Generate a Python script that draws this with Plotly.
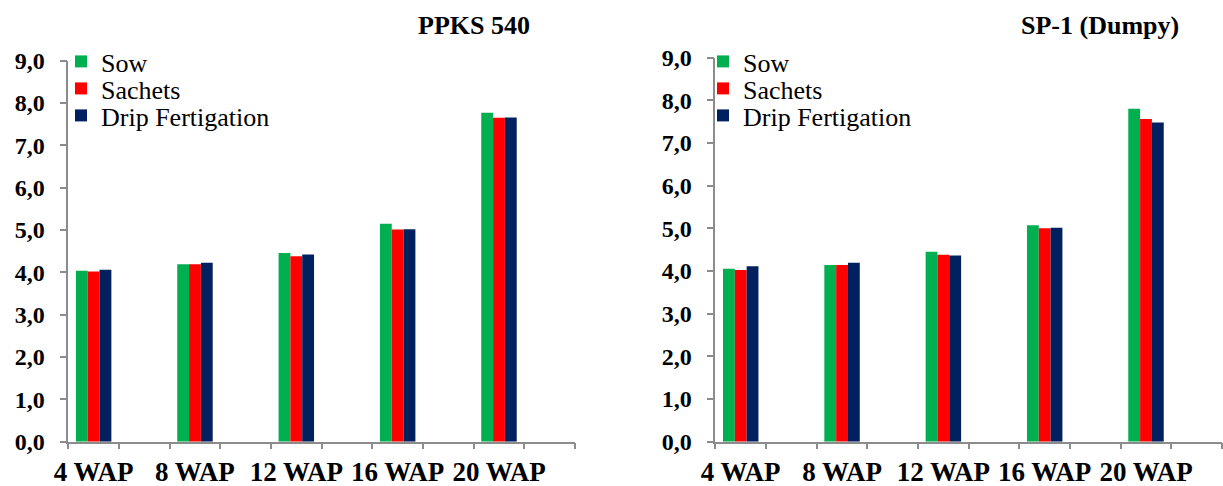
import plotly.graph_objects as go

categories = ["4 WAP", "8 WAP", "12 WAP", "16 WAP", "20 WAP"]
series_names = ["Sow", "Sachets", "Drip Fertigation"]
series_colors = ["#00B050", "#FF0000", "#002060"]

ppks_sow = [4.04, 4.19, 4.46, 5.15, 7.77]
ppks_sachets = [4.02, 4.19, 4.38, 5.01, 7.65]
ppks_drip = [4.06, 4.23, 4.42, 5.02, 7.66]

sp1_sow = [4.05, 4.14, 4.45, 5.07, 7.80]
sp1_sachets = [4.02, 4.14, 4.38, 5.00, 7.56]
sp1_drip = [4.11, 4.19, 4.36, 5.01, 7.48]

y_tick_values = [0, 1, 2, 3, 4, 5, 6, 7, 8, 9]
y_tick_labels = ["0,0", "1,0", "2,0", "3,0", "4,0", "5,0", "6,0", "7,0", "8,0", "9,0"]

panel_titles = ["PPKS 540", "SP-1 (Dumpy)"]

# each category occupies one slot followed by an empty slot (as in the original axis)
x_pos = [2 * i + 0.5 for i in range(len(categories))]
slot_edges = list(range(2 * len(categories) + 1))

FONT = "Liberation Serif, Times New Roman, serif"
GREY = "#8C8C8C"
W, H = 1223, 486

fig = go.Figure()

# legend placement (px) per panel and per series row
legend_left_px = [61, 703]
legend_row_top_px = [38, 65, 92]

panels = [
    ([ppks_sow, ppks_sachets, ppks_drip], "x", "y"),
    ([sp1_sow, sp1_sachets, sp1_drip], "x2", "y2"),
]
legend_layout = {}
lg_index = 1
for p, (values, xa, ya) in enumerate(panels):
    for k, (name, color, vals) in enumerate(zip(series_names, series_colors, values)):
        lg_name = "legend" if lg_index == 1 else "legend%d" % lg_index
        fig.add_trace(go.Bar(
            x=x_pos, y=vals, name=name, marker=dict(color=color, line=dict(width=0)),
            xaxis=xa, yaxis=ya, legend=lg_name,
        ))
        legend_layout[lg_name] = dict(
            x=legend_left_px[p] / W, y=1 - legend_row_top_px[k] / H,
            xanchor="left", yanchor="top",
            font=dict(family=FONT, size=26, color="black"),
            bgcolor="rgba(0,0,0,0)", borderwidth=0, itemwidth=30,
        )
        lg_index += 1

xaxis_common = dict(
    range=[0, 2 * len(categories)],
    tickmode="array", tickvals=x_pos, ticktext=["<b>" + c + "</b>" for c in categories],
    ticks="", showgrid=False, zeroline=False, automargin=False,
    showline=True, linecolor=GREY, linewidth=1.5,
    tickfont=dict(family=FONT, size=27, color="black"),
    minor=dict(tickmode="array", tickvals=slot_edges, ticks="outside", ticklen=6,
               tickcolor=GREY, tickwidth=1.5, showgrid=False),
    ticklabelstandoff=5,
    fixedrange=True,
)
yaxis_common = dict(
    range=[0, 9], tickmode="array", tickvals=y_tick_values,
    ticktext=["<b>" + t + "</b>" for t in y_tick_labels],
    ticks="outside", ticklen=7, tickcolor=GREY, tickwidth=1.5, automargin=False,
    showgrid=False, zeroline=False, showline=True, linecolor=GREY, linewidth=1.5,
    tickfont=dict(family=FONT, size=24, color="black"),
    ticklabelstandoff=10, fixedrange=True,
)

fig.update_layout(
    width=W, height=H,
    margin=dict(l=0, r=0, t=0, b=0, pad=0),
    font=dict(family=FONT, color="black"),
    paper_bgcolor="white", plot_bgcolor="white",
    barmode="group", bargap=0.65, bargroupgap=0,
    xaxis=dict(domain=[68.3 / W, 575 / W], anchor="y", **xaxis_common),
    yaxis=dict(domain=[1 - 441.7 / H, 1 - 60.7 / H], anchor="x", **yaxis_common),
    xaxis2=dict(domain=[715.4 / W, 1222 / W], anchor="y2", **xaxis_common),
    yaxis2=dict(domain=[1 - 441.7 / H, 1 - 57.5 / H], anchor="x2", **yaxis_common),
    annotations=[
        dict(text="<b>" + panel_titles[0] + "</b>", x=474 / W, y=1 - 25 / H, xref="paper", yref="paper",
             showarrow=False, xanchor="center", yanchor="middle",
             font=dict(family=FONT, size=26, color="black")),
        dict(text="<b>" + panel_titles[1] + "</b>", x=1100 / W, y=1 - 25 / H, xref="paper", yref="paper",
             showarrow=False, xanchor="center", yanchor="middle",
             font=dict(family=FONT, size=26, color="black")),
    ],
    showlegend=True,
    **legend_layout,
)

fig.write_html("out.html", config={"displayModeBar": False},
               post_script="document.body.style.margin='0';")
